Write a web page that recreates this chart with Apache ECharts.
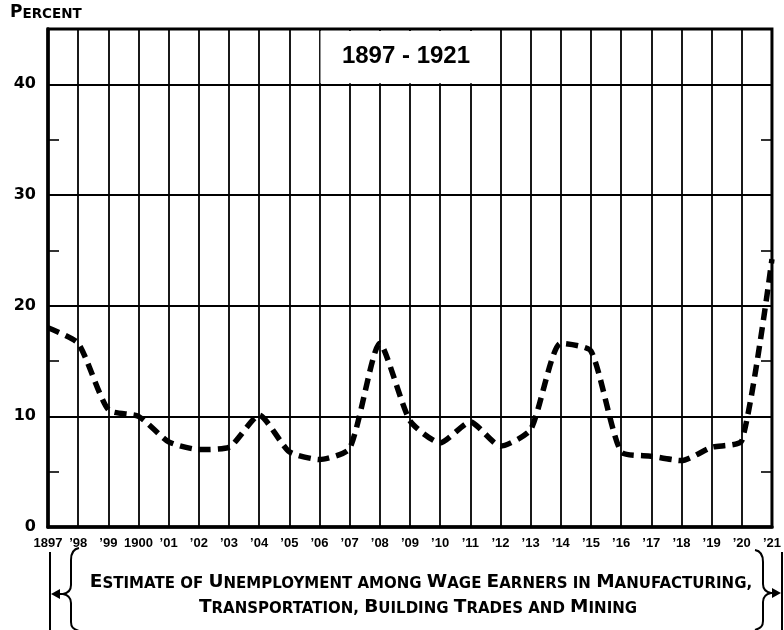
<!DOCTYPE html>
<html>
<head>
	<meta charset="UTF-8">
	<title>Unemployment 1897-1921</title>
	<style type="text/css">
		html, body { margin: 0; padding: 0; background: #fff; }
		#main { width: 784px; height: 630px; }
	</style>
	<script src="https://cdn.jsdelivr.net/npm/echarts/dist/echarts.min.js"></script>
</head>
<body>
	<div id="main"></div>
	<script>
		// years on the x axis and the way they are lettered under the chart
		var years = ['1897', '1898', '1899', '1900', '1901', '1902', '1903', '1904', '1905', '1906', '1907', '1908',
			'1909', '1910', '1911', '1912', '1913', '1914', '1915', '1916', '1917', '1918', '1919', '1920', '1921'];
		var yearLabels = ['1897', '’98', '’99', '1900', '’01', '’02', '’03', '’04', '’05', '’06', '’07', '’08',
			'’09', '’10', '’11', '’12', '’13', '’14', '’15', '’16', '’17', '’18', '’19', '’20', '’21'];
		// percent unemployed
		var unemployment = [18.0, 16.6, 10.6, 10.0, 7.7, 7.0, 7.2, 10.1, 6.8, 6.1, 7.1, 16.6,
			9.6, 7.6, 9.5, 7.3, 8.8, 16.6, 15.9, 6.8, 6.4, 6.0, 7.2, 7.8, 24.2];

		var captionLine1 = 'Estimate of Unemployment among Wage Earners in Manufacturing,';
		var captionLine2 = 'Transportation, Building Trades and Mining';

		var ink = '#000';

		// turn "Word" into rich text: capital letter big, the rest as small capitals
		function smallCaps(str) {
			var out = '', i = 0;
			while (i < str.length) {
				var ch = str[i];
				if (ch >= 'A' && ch <= 'Z') {
					out += '{b|' + ch + '}';
					i++;
				} else {
					var j = i;
					while (j < str.length && !(str[j] >= 'A' && str[j] <= 'Z')) j++;
					out += '{s|' + str.slice(i, j).toUpperCase() + '}';
					i = j;
				}
			}
			return out;
		}

		var capsRich = {
			b: { fontFamily: 'DejaVu Sans', fontWeight: 'bold', fontSize: 18.5, color: ink, verticalAlign: 'bottom' },
			s: { fontFamily: 'DejaVu Sans', fontWeight: 'bold', fontSize: 15, color: ink, verticalAlign: 'bottom' }
		};

		// curly brace made of bezier pieces; dir = -1 points left, 1 points right
		function brace(spineX, dir, top, mid, bottom) {
			var tip = spineX + dir * 8, end = spineX - dir * 8;
			var st = { fill: null, stroke: ink, lineWidth: 2 };
			return [
				{ type: 'bezierCurve', z: 101, style: st, shape: { x1: end, y1: top, cpx1: spineX - dir * 2, cpy1: top + 1, cpx2: spineX, cpy2: top + 5, x2: spineX, y2: top + 12 } },
				{ type: 'line', z: 101, style: st, shape: { x1: spineX, y1: top + 12, x2: spineX, y2: mid - 9 } },
				{ type: 'bezierCurve', z: 101, style: st, shape: { x1: spineX, y1: mid - 9, cpx1: spineX, cpy1: mid - 4, cpx2: spineX + dir * 3, cpy2: mid - 1, x2: tip, y2: mid } },
				{ type: 'bezierCurve', z: 101, style: st, shape: { x1: tip, y1: mid, cpx1: spineX + dir * 3, cpy1: mid + 1, cpx2: spineX, cpy2: mid + 4, x2: spineX, y2: mid + 9 } },
				{ type: 'line', z: 101, style: st, shape: { x1: spineX, y1: mid + 9, x2: spineX, y2: bottom - 9 } },
				{ type: 'bezierCurve', z: 101, style: st, shape: { x1: spineX, y1: bottom - 9, cpx1: spineX, cpy1: bottom - 4, cpx2: spineX - dir * 2, cpy2: bottom - 2, x2: end, y2: bottom } }
			];
		}

		var chart = echarts.init(document.getElementById('main'));

		var tickAxis = function (pos, showLine) {
			return {
				type: 'value',
				position: pos,
				min: 0,
				max: 45,
				interval: 5,
				axisLine: { show: showLine, lineStyle: { color: ink, width: 2 } },
				axisTick: { show: true, inside: true, length: 11, lineStyle: { color: ink, width: 1.6 } },
				axisLabel: { show: false },
				splitLine: { show: false }
			};
		};

		var option = {
			animation: false,
			backgroundColor: '#fff',
			grid: {
				left: 48,
				right: 2,
				top: 29,
				bottom: 103,
				show: true,
				borderColor: ink,
				borderWidth: 3
			},
			xAxis: {
				type: 'category',
				data: years,
				boundaryGap: false,
				axisLine: { lineStyle: { color: ink, width: 3.5 } },
				axisTick: { show: false },
				splitLine: { show: true, lineStyle: { color: ink, width: 1.8 } },
				axisLabel: {
					interval: 0,
					margin: 10,
					color: ink,
					fontFamily: 'Liberation Sans',
					fontWeight: 'bold',
					fontSize: 13,
					formatter: function (v, i) { return yearLabels[i]; }
				}
			},
			yAxis: [{
				type: 'value',
				position: 'left',
				min: 0,
				max: 45,
				interval: 10,
				axisLine: { show: true, lineStyle: { color: ink, width: 3.5 } },
				axisTick: { show: false },
				splitLine: { show: true, lineStyle: { color: ink, width: 1.8 } },
				axisLabel: {
					margin: 12,
					color: ink,
					fontFamily: 'DejaVu Sans',
					fontWeight: 'bold',
					fontSize: 16,
					formatter: function (v) { return v % 10 === 0 ? String(v) : ''; }
				}
			}, tickAxis('left', false), tickAxis('right', true)],
			series: [{
				type: 'line',
				data: unemployment,
				yAxisIndex: 0,
				symbol: 'none',
				smooth: 0.2,
				z: 5,
				lineStyle: { color: ink, width: 5.5, type: [12, 7] }
			}]
		};

		chart.setOption(option);

		// white title panel covering the grid between 1906 and 1912, above 40
		var tl = chart.convertToPixel({ xAxisIndex: 0, yAxisIndex: 0 }, [9, 45]);
		var br = chart.convertToPixel({ xAxisIndex: 0, yAxisIndex: 0 }, [15, 40]);

		var decorations = [
			{
				type: 'rect', z: 100,
				shape: { x: tl[0] + 1, y: tl[1] + 2, width: br[0] - tl[0] - 2, height: br[1] - tl[1] - 3 },
				style: { fill: '#fff' }
			},
			{
				type: 'text', z: 101,
				x: (tl[0] + br[0]) / 2 - 4, y: (tl[1] + br[1]) / 2,
				style: {
					text: '1897 - 1921', align: 'center', verticalAlign: 'middle',
					font: 'bold 24px "Liberation Sans"', fill: ink
				}
			},
			{
				type: 'text', z: 101, x: 10, y: 21,
				style: { text: smallCaps('Percent'), align: 'left', verticalAlign: 'bottom', rich: {
					b: { fontFamily: 'DejaVu Sans', fontWeight: 'bold', fontSize: 17, color: ink, verticalAlign: 'bottom' },
					s: { fontFamily: 'DejaVu Sans', fontWeight: 'bold', fontSize: 13.5, color: ink, verticalAlign: 'bottom' }
				} }
			},
			{
				type: 'text', z: 101, x: 421, y: 592,
				style: { text: smallCaps(captionLine1), align: 'center', verticalAlign: 'bottom', rich: capsRich }
			},
			{
				type: 'text', z: 101, x: 418, y: 617,
				style: { text: smallCaps(captionLine2), align: 'center', verticalAlign: 'bottom', rich: capsRich }
			},
			// left bracket with arrow
			{ type: 'line', z: 101, shape: { x1: 50, y1: 552, x2: 50, y2: 630 }, style: { stroke: ink, lineWidth: 2 } },
			{ type: 'line', z: 101, shape: { x1: 58, y1: 594, x2: 64, y2: 594 }, style: { stroke: ink, lineWidth: 2 } },
			{ type: 'polygon', z: 101, shape: { points: [[51, 594], [60, 589], [60, 599]] }, style: { fill: ink } },
			// right bracket with arrow
			{ type: 'line', z: 101, shape: { x1: 782, y1: 552, x2: 782, y2: 630 }, style: { stroke: ink, lineWidth: 2 } },
			{ type: 'line', z: 101, shape: { x1: 769, y1: 593, x2: 775, y2: 593 }, style: { stroke: ink, lineWidth: 2 } },
			{ type: 'polygon', z: 101, shape: { points: [[781, 593], [772, 588], [772, 598]] }, style: { fill: ink } }
		];
		decorations = decorations.concat(brace(71, -1, 548, 594, 631), brace(763, 1, 550, 593, 630));

		chart.setOption({ graphic: decorations });
	</script>
</body>
</html>
